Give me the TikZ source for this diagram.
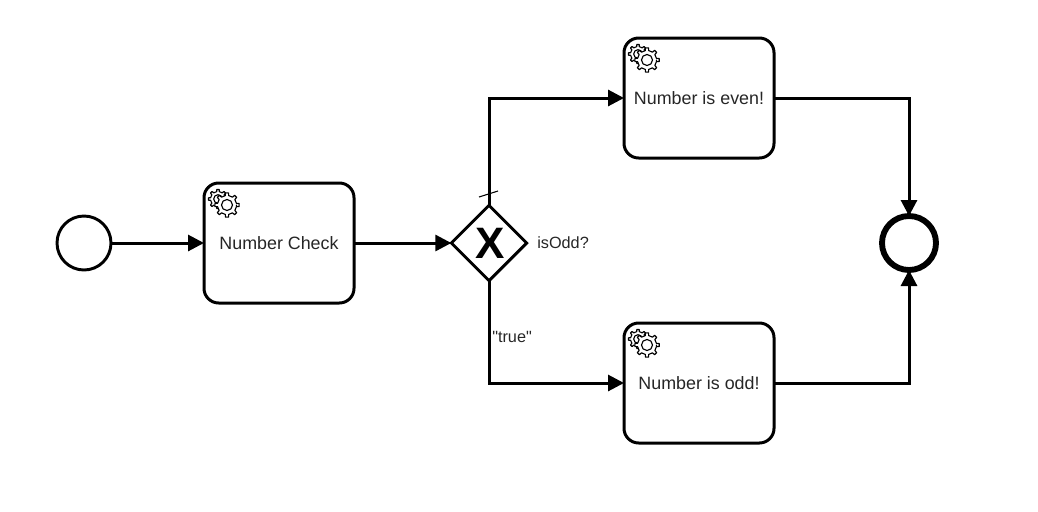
\documentclass[tikz,border=0pt]{standalone}
\usepackage{fontspec}
\setmainfont{Liberation Sans}
\newfontfamily\plainfont{Liberation Sans}
\usetikzlibrary{arrows.meta,shapes.geometric}
\tikzset{
  flow/.style={line width=2.25pt,-{Triangle[length=12pt,width=12pt]},line join=miter},
  taskbox/.style={draw,line width=2.25pt,rounded corners=11pt,minimum width=112.5pt,minimum height=90pt,outer sep=0pt,inner sep=0pt,font=\fontsize{13.4pt}{15pt}\selectfont,text=black!85},
  startev/.style={circle,draw,line width=2.2pt,minimum size=40.5pt,outer sep=0pt,inner sep=0pt},
  endev/.style={circle,draw,line width=4.4pt,minimum size=40.5pt,outer sep=0pt,inner sep=0pt},
  gatew/.style={diamond,draw,line width=2.2pt,minimum size=56.5pt,outer sep=0pt,inner sep=0pt,font=\fontsize{33pt}{34pt}\selectfont\bfseries},
  lbl/.style={inner sep=0pt,font=\plainfont\fontsize{12.2pt}{14pt}\selectfont,text=black!85},
  gearline/.style={line width=0.85pt,fill=white,line join=round},
  pics/gear/.style={code={
    \draw[gearline] (0:#1*0.78)
      \foreach \a in {0,45,...,315}{
        -- (\a-10:#1*0.78*1) -- (\a-7:#1) -- (\a+7:#1) -- (\a+10:#1*0.78)
        arc[start angle=\a+10,end angle=\a+35,radius=#1*0.78]
      } -- cycle;
    \draw[line width=0.85pt] (0,0) circle[radius=#1*0.45];
  }},
  pics/gears/.style={code={
    \pic at (-6.75pt,4.5pt) {gear=7.2pt};
    \pic at (0,0) {gear=9.2pt};
  }}
}
\begin{document}
\begin{tikzpicture}[x=0.75pt,y=-0.75pt]
\useasboundingbox (0,0) rectangle (1038,511);
\node[startev] (start) at (84,243) {};
\node[taskbox] (check) at (279,243) {Number Check};
\node[gatew] (gw) at (489,243) {\kern1.5pt X};
\node[taskbox] (even) at (699,98) {Number is even!};
\node[taskbox] (odd) at (699,383) {Number is odd!};
\node[endev] (end) at (909,243) {};
\node[lbl,anchor=west] (isodd) at (537,243) {isOdd?};
\node[lbl,anchor=west] (true) at (492,336.5) {"true"};
\coordinate (gearA) at (227,205);
\coordinate (gearB) at (647,60);
\coordinate (gearC) at (647,345);
\pic at (gearA) {gears};
\pic at (gearB) {gears};
\pic at (gearC) {gears};
\draw[flow] (start) -- (check);
\draw[flow] (check) -- (gw);
\draw[flow] (gw.north) |- (even.west);
\draw[flow] (gw.south) |- (odd.west);
\draw[flow] (even.east) -| (end.north);
\draw[flow] (odd.east) -| (end.south);
\coordinate (tickA) at (479,197);
\coordinate (tickB) at (498,191);
\draw[line width=0.8pt] (tickA) -- (tickB);
\end{tikzpicture}
\end{document}
